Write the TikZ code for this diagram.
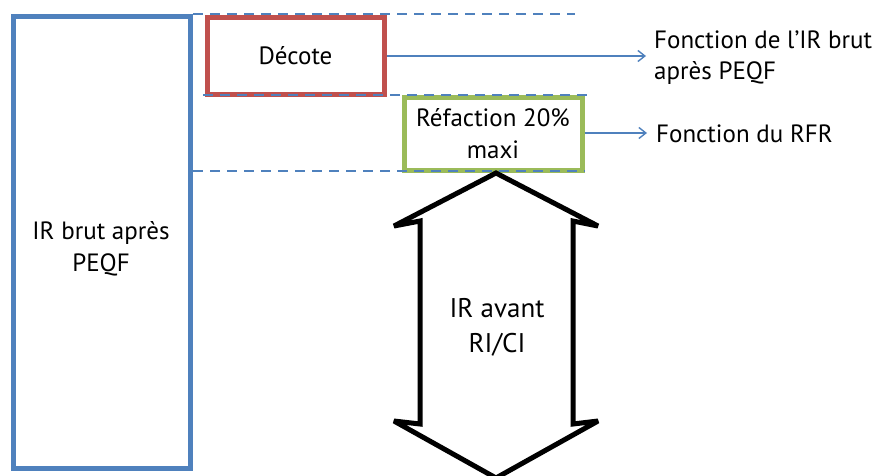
\documentclass[tikz,border=0pt]{standalone}
\usepackage{fontspec}
\setmainfont{PT Sans}
\usetikzlibrary{arrows.meta}
\definecolor{cblue}{HTML}{4F81BD}
\definecolor{cred}{HTML}{C0504D}
\definecolor{cgreen}{HTML}{9BBB59}
\tikzset{
  boxbase/.style={draw, line width=5pt, inner sep=0pt, align=center, font=\fontsize{25}{32}\selectfont},
  bluebox/.style={boxbase, draw=cblue},
  redbox/.style={boxbase, draw=cred},
  greenbox/.style={boxbase, draw=cgreen},
  guide/.style={draw=cblue, line width=2pt, dash pattern=on 10pt off 7pt},
  conn/.style={draw=cblue, line width=1.4pt, -{Straight Barb[length=7pt,width=11pt,line width=1.4pt]}},
  lbl/.style={font=\fontsize{25}{31}\selectfont, align=left, anchor=west, inner sep=0pt},
  bigarrow/.style={draw=black, fill=white, line width=5pt, line join=miter, miter limit=2},
  bigtxt/.style={font=\fontsize{27}{35}\selectfont, align=center, inner sep=0pt}
}
\begin{document}
\begin{tikzpicture}[x=1pt,y=-1pt]
\useasboundingbox (0,0) rectangle (880,475);
\fill[white] (0,0) rectangle (880,475);
% guides
\coordinate (g1a) at (193,14);   \coordinate (g1b) at (575,14);
\coordinate (g2a) at (203,95);   \coordinate (g2b) at (590,95);
\coordinate (g3a) at (193,171);  \coordinate (g3b) at (585,171);
\draw[guide] (g1a) -- (g1b);
% boxes
\node[bluebox, minimum width=177pt, minimum height=452pt] (ir) at (101.5,242) {};
\node[inner sep=0pt, align=center, font=\fontsize{25}{32}\selectfont] (irt) at (101,249) {IR brut après\\PEQF};
\node[redbox, minimum width=177pt, minimum height=77pt] (decote) at (295.5,55.5) {Décote};
\node[greenbox, minimum width=178pt, minimum height=73pt] (refac) at (493,133.5) {Réfaction 20\%\\maxi};
% double arrow
\draw[bigarrow] (496,173) -- (598,226) -- (573,221) -- (573,424) -- (598,421) -- (496,478)
  -- (394,421) -- (420,424) -- (420,221) -- (394,226) -- cycle;
\node[bigtxt] (avant) at (497,327) {IR avant\\RI/CI};
\draw[guide] (g2a) -- (g2b);
\draw[guide] (g3a) -- (g3b);
% labels
\node[lbl] (f1) at (654,57.5) {Fonction de l’IR brut\\après PEQF};
\node[lbl] (f2) at (656,134) {Fonction du RFR};
\coordinate (f1e) at (646,56);
\coordinate (f2e) at (647,133);
\draw[conn] (decote.east |- f1e) -- (f1e);
\draw[conn] (refac.east |- f2e) -- (f2e);
\end{tikzpicture}
\end{document}
